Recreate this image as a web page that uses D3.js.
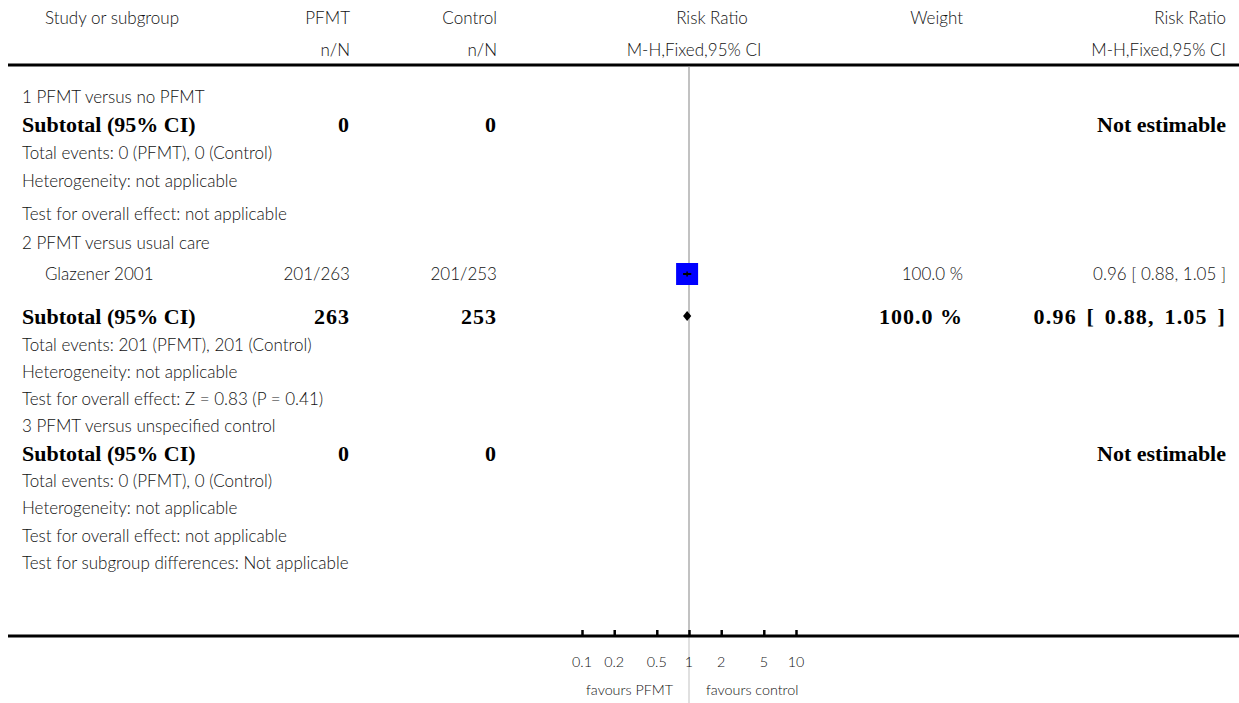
<!DOCTYPE html>
<html>
<head>
<meta charset="utf-8">
<script src="https://cdn.jsdelivr.net/npm/d3@7"></script>
<style>
  body { margin: 0; background: #fff; }
  svg { display: block; }
  .txt { font-family: Lato, "Noto Sans", sans-serif; font-weight: 300; font-size: 17px; fill: #111; }
  .bold { font-family: "Liberation Serif", "DejaVu Serif", serif; font-weight: bold; font-size: 22px; fill: #000; }
  .num { letter-spacing: 1px; }
  .wide { letter-spacing: 1.2px; word-spacing: 3px; }
  .tick { font-family: Lato, "Noto Sans", sans-serif; font-weight: 300; font-size: 14.3px; fill: #111; }
</style>
</head>
<body>
<div id="chart"></div>
<script>
// ---- data ----
let headTop = ["Study or subgroup", "PFMT", "Control", "Risk Ratio", "Weight", "Risk Ratio"];
let headSub = ["", "n/N", "n/N", "M-H,Fixed,95% CI", "", "M-H,Fixed,95% CI"];

let leftLabels = [
    "1 PFMT versus no PFMT",
    "Subtotal (95% CI)",
    "Total events: 0 (PFMT), 0 (Control)",
    "Heterogeneity: not applicable",
    "Test for overall effect: not applicable",
    "2 PFMT versus usual care",
    "Glazener 2001",
    "Subtotal (95% CI)",
    "Total events: 201 (PFMT), 201 (Control)",
    "Heterogeneity: not applicable",
    "Test for overall effect: Z = 0.83 (P = 0.41)",
    "3 PFMT versus unspecified control",
    "Subtotal (95% CI)",
    "Total events: 0 (PFMT), 0 (Control)",
    "Heterogeneity: not applicable",
    "Test for overall effect: not applicable",
    "Test for subgroup differences: Not applicable"
];
let rowKinds = ["group", "subtotal", "info", "info", "info",
                "group", "study", "subtotal", "info", "info", "info",
                "group", "subtotal", "info", "info", "info", "info"];
let pfmtCol    = ["", "0", "", "", "", "", "201/263", "263", "", "", "", "", "0", "", "", "", ""];
let controlCol = ["", "0", "", "", "", "", "201/253", "253", "", "", "", "", "0", "", "", "", ""];
let weightCol  = ["", "", "", "", "", "", "100.0 %", "100.0 %", "", "", "", "", "", "", "", "", ""];
let rrCol      = ["", "Not estimable", "", "", "", "", "0.96 [ 0.88, 1.05 ]", "0.96 [ 0.88, 1.05 ]",
                  "", "", "", "", "Not estimable", "", "", "", ""];

// study estimates (row index, rr, ci, weight %)
let studyRow = [6];
let studyRR = [0.96];
let studyLow = [0.88];
let studyHigh = [1.05];
let studyWeight = [100];

// pooled subtotals
let pooledRow = [7];
let pooledRR = [0.96];
let pooledLow = [0.88];
let pooledHigh = [1.05];

let tickVals = [0.1, 0.2, 0.5, 1, 2, 5, 10];
let tickLabels = ["0.1", "0.2", "0.5", "1", "2", "5", "10"];
let favourLeft = "favours PFMT";
let favourRight = "favours control";

// ---- layout ----
let width = 1239, height = 703;
let svg = d3.select("#chart").append("svg")
    .attr("width", width)
    .attr("height", height);

let colX = { label: 22, study: 45, pfmt: 350, ctrl: 497, weight: 963, rr: 1226 };
let headLineY = 65;
let axisY = 636;

let x = d3.scaleLog().domain([0.1, 10]).range([582, 796]);

// row centres (page layout)
let rowY = [97, 124, 153, 181, 214, 243, 274, 316, 345, 372, 399, 426, 453, 481, 508, 536, 563];

function cls(i) {
    return rowKinds[i] === "subtotal" ? "bold num" : "txt";
}

// ---- header ----
let head = svg.append("g");
head.append("text").attr("class", "txt").attr("x", colX.study).attr("y", 18).attr("dy", "0.35em").text(headTop[0]);
head.append("text").attr("class", "txt").attr("x", colX.pfmt).attr("y", 18).attr("dy", "0.35em").attr("text-anchor", "end").text(headTop[1]);
head.append("text").attr("class", "txt").attr("x", colX.ctrl).attr("y", 18).attr("dy", "0.35em").attr("text-anchor", "end").text(headTop[2]);
head.append("text").attr("class", "txt").attr("x", 712).attr("y", 18).attr("dy", "0.35em").attr("text-anchor", "middle").text(headTop[3]);
head.append("text").attr("class", "txt").attr("x", colX.weight).attr("y", 18).attr("dy", "0.35em").attr("text-anchor", "end").text(headTop[4]);
head.append("text").attr("class", "txt").attr("x", colX.rr).attr("y", 18).attr("dy", "0.35em").attr("text-anchor", "end").text(headTop[5]);

head.append("text").attr("class", "txt").attr("x", colX.pfmt).attr("y", 50).attr("dy", "0.35em").attr("text-anchor", "end").text(headSub[1]);
head.append("text").attr("class", "txt").attr("x", colX.ctrl).attr("y", 50).attr("dy", "0.35em").attr("text-anchor", "end").text(headSub[2]);
head.append("text").attr("class", "txt").attr("x", 694).attr("y", 50).attr("dy", "0.35em").attr("text-anchor", "middle").text(headSub[3]);
head.append("text").attr("class", "txt").attr("x", colX.rr).attr("y", 50).attr("dy", "0.35em").attr("text-anchor", "end").text(headSub[5]);

svg.append("line")
    .attr("x1", 8).attr("x2", width)
    .attr("y1", headLineY).attr("y2", headLineY)
    .attr("stroke", "#000").attr("stroke-width", 3);

// ---- vertical line of no effect ----
svg.append("line")
    .attr("x1", x(1)).attr("x2", x(1))
    .attr("y1", headLineY + 1.5).attr("y2", axisY)
    .attr("stroke", "#999").attr("stroke-width", 1.2);
svg.append("line")
    .attr("x1", x(1)).attr("x2", x(1))
    .attr("y1", axisY).attr("y2", height)
    .attr("stroke", "#ccc").attr("stroke-width", 1.2);

// ---- table rows ----
let rows = svg.append("g").selectAll("g")
    .data(leftLabels)
    .join("g")
    .attr("transform", (d, i) => "translate(0," + rowY[i] + ")");

rows.append("text")
    .attr("class", (d, i) => rowKinds[i] === "subtotal" ? "bold" : "txt")
    .attr("x", (d, i) => rowKinds[i] === "study" ? colX.study : colX.label)
    .attr("dy", "0.35em")
    .text(d => d);

rows.append("text")
    .attr("class", (d, i) => cls(i))
    .attr("x", colX.pfmt).attr("dy", "0.35em").attr("text-anchor", "end")
    .text((d, i) => pfmtCol[i]);

rows.append("text")
    .attr("class", (d, i) => cls(i))
    .attr("x", colX.ctrl).attr("dy", "0.35em").attr("text-anchor", "end")
    .text((d, i) => controlCol[i]);

rows.append("text")
    .attr("class", (d, i) => cls(i))
    .attr("x", colX.weight).attr("dy", "0.35em").attr("text-anchor", "end")
    .text((d, i) => weightCol[i]);

rows.append("text")
    .attr("class", (d, i) => rowKinds[i] !== "subtotal" ? "txt"
        : (rrCol[i].indexOf("[") >= 0 ? "bold wide" : "bold"))
    .attr("x", colX.rr).attr("dy", "0.35em").attr("text-anchor", "end")
    .text((d, i) => rrCol[i]);

// ---- study squares + CI ----
let boxSize = d3.scaleSqrt().domain([0, 100]).range([0, 22]);
let plot = svg.append("g");

studyRow.forEach(function(r, i) {
    let cy = rowY[r];
    let s = boxSize(studyWeight[i]);
    plot.append("rect")
        .attr("x", x(studyRR[i]) - s / 2).attr("y", cy - s / 2)
        .attr("width", s).attr("height", s)
        .attr("fill", "#0000ff");
    plot.append("line")
        .attr("x1", x(studyLow[i])).attr("x2", x(studyHigh[i]))
        .attr("y1", cy).attr("y2", cy)
        .attr("stroke", "#000").attr("stroke-width", 2);
    plot.append("line")
        .attr("x1", x(studyRR[i])).attr("x2", x(studyRR[i]))
        .attr("y1", cy - 2.5).attr("y2", cy + 2.5)
        .attr("stroke", "#000").attr("stroke-width", 1.5);
});

// ---- pooled diamonds ----
pooledRow.forEach(function(r, i) {
    let cy = rowY[r];
    let pts = [[x(pooledLow[i]), cy], [x(pooledRR[i]), cy - 5],
               [x(pooledHigh[i]), cy], [x(pooledRR[i]), cy + 5]];
    plot.append("path")
        .attr("d", d3.line()(pts) + "Z")
        .attr("fill", "#000");
});

// ---- bottom line + axis ----
svg.append("line")
    .attr("x1", 8).attr("x2", width)
    .attr("y1", axisY).attr("y2", axisY)
    .attr("stroke", "#000").attr("stroke-width", 3);

let axis = svg.append("g")
    .attr("transform", "translate(0," + axisY + ")")
    .call(d3.axisTop(x).tickValues(tickVals).tickSize(6).tickFormat(""));
axis.select(".domain").remove();
axis.selectAll(".tick line").attr("stroke", "#000").attr("stroke-width", 2.5);

svg.append("g").selectAll("text")
    .data(tickVals)
    .join("text")
    .attr("class", "tick")
    .attr("x", d => x(d))
    .attr("y", 662).attr("dy", "0.35em")
    .attr("text-anchor", "middle")
    .text((d, i) => tickLabels[i]);

svg.append("text").attr("class", "tick")
    .attr("x", x(1) - 16).attr("y", 690).attr("dy", "0.35em")
    .attr("text-anchor", "end").text(favourLeft);
svg.append("text").attr("class", "tick")
    .attr("x", x(1) + 17).attr("y", 690).attr("dy", "0.35em")
    .attr("text-anchor", "start").text(favourRight);
</script>
</body>
</html>
